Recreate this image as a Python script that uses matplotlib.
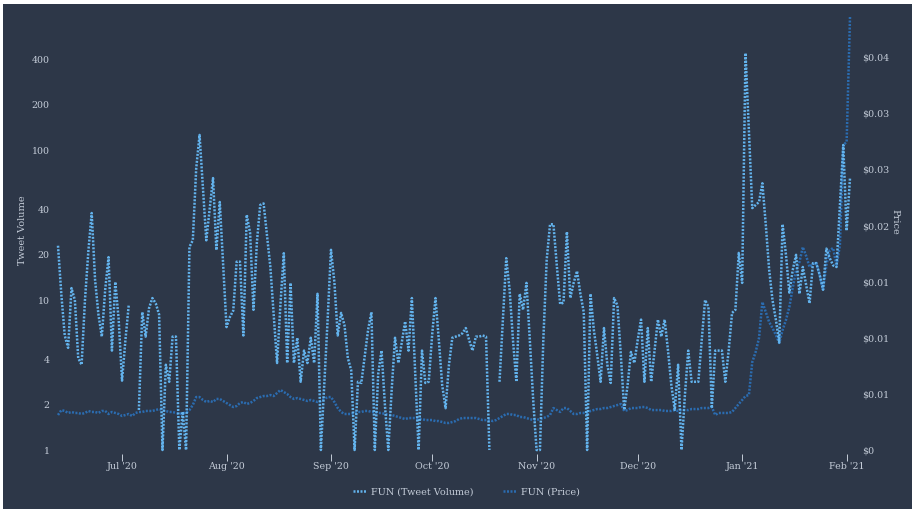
import numpy as np
import pandas as pd
import matplotlib
matplotlib.use('Agg')
import matplotlib.pyplot as plt
from matplotlib.patches import Rectangle

nan = float('nan')

# daily values
tweet_volume = [
    23, 10.8, 5.8, 4.8, 12, 10, 4.1, 3.7, 10, 21,
    38, 13.6, 8, 5.7, 11.7, 19.3, 4.6, 13.2, 7.4, 2.9,
    5.4, 9.3, nan, nan, 1.85, 8.3, 5.7, 8.8, 10.3, 9.5,
    8, 1, 3.7, 2.85, 5.7, 5.7, 1, 1.8, 1, 22.6,
    25, 75, 126, 56, 25, 40, 65, 21.5, 45, 17,
    6.6, 7.7, 8.5, 18, 18, 5.8, 37, 28, 8.6, 24,
    43, 44, 27, 16.7, 8, 3.8, 9.3, 20.5, 3.8, 13,
    3.8, 5.6, 2.85, 4.6, 3.8, 5.6, 3.8, 11, 1, 2.7,
    7.4, 21.6, 13.2, 5.8, 8.2, 6.8, 4.1, 3.4, 1, 2.85,
    2.8, 4.2, 6.3, 8.3, 1, 3.2, 4.6, 2, 1, 2.5,
    5.6, 3.8, 5.2, 7.2, 4.6, 10.3, 3.2, 1, 4.6, 2.8,
    2.85, 5.8, 10.3, 5.4, 2.7, 1.9, 3.7, 5.6, 5.7, 5.8,
    6, 6.5, 5.4, 4.6, 5.7, 5.7, 5.8, 5.7, 1, nan,
    nan, 2.85, 7.4, 19, 11.7, 5.4, 2.85, 11, 8.6, 13,
    5.4, 2.15, 1, 1, 5.4, 18.5, 32, 32, 17, 9.4,
    9.6, 28.5, 10.3, 13, 15.6, 11, 8.3, 1, 11, 6.3,
    4.3, 2.85, 6.5, 3.7, 2.8, 10.3, 9.2, 4.3, 1.85, 2.7,
    4.5, 3.8, 5.4, 7.4, 2.85, 6.5, 2.85, 4.6, 7.4, 5.7,
    7.4, 4.6, 2.7, 1.85, 3.7, 1, 2.3, 4.6, 2.85, 2.85,
    2.85, 5.4, 10, 9, 1.9, 4.6, 4.6, 4.6, 2.85, 4.6,
    8.2, 8.6, 20.6, 13, 443, 136, 41, 43, 45, 60,
    32, 16, 10, 7.4, 5.2, 32, 20, 11.2, 15.8, 20,
    11, 16.6, 12.6, 9.5, 17.6, 17.6, 14.7, 11.7, 22, 19,
    17, 16.6, 43, 108, 29, 65,
]

price = [
    .00312, .00356, .00348, .00330, .00339, .00330, .00330, .00321, .00330, .00348,
    .00339, .00339, .00330, .00348, .00348, .00321, .00339, .00330, .00321, .00303,
    .00312, .00321, .00303, .00330, .00339, .00339, .00348, .00348, .00348, .00356,
    .00365, .00356, .00348, .00339, .00339, .00330, .00321, .00330, .00330, .00356,
    .00401, .00472, .00472, .00446, .00428, .00437, .00428, .00455, .00455, .00437,
    .00419, .00401, .00383, .00392, .00419, .00428, .00410, .00419, .00437, .00463,
    .00472, .00481, .00481, .00490, .00481, .00508, .00535, .00517, .00499, .00472,
    .00455, .00463, .00455, .00446, .00437, .00446, .00437, .00428, .00437, .00455,
    .00472, .00472, .00428, .00374, .00339, .00321, .00321, .00321, .00330, .00339,
    .00339, .00348, .00348, .00339, .00339, .00330, .00330, .00321, .00312, .00312,
    .00303, .00294, .00285, .00276, .00285, .00285, .00285, .00276, .00276, .00267,
    .00267, .00267, .00258, .00258, .00250, .00241, .00241, .00250, .00258, .00276,
    .00285, .00285, .00285, .00285, .00285, .00276, .00267, .00267, .00267, .00258,
    .00267, .00285, .00303, .00321, .00321, .00312, .00312, .00294, .00294, .00285,
    .00276, .00267, .00267, .00276, .00285, .00294, .00312, .00374, .00356, .00339,
    .00374, .00374, .00348, .00321, .00321, .00330, .00330, .00330, .00348, .00356,
    .00365, .00365, .00374, .00374, .00383, .00392, .00401, .00410, .00348, .00356,
    .00374, .00374, .00374, .00383, .00383, .00374, .00356, .00356, .00356, .00356,
    .00348, .00348, .00348, .00356, .00348, .00356, .00356, .00356, .00365, .00365,
    .00365, .00374, .00374, .00374, .00383, .00312, .00330, .00330, .00330, .00330,
    .00339, .00374, .00410, .00446, .00481, .00490, .00784, .00873, .00998, .01319,
    .01230, .01141, .01087, .01025, .00954, .01069, .01159, .01274, .01444, .01604,
    .01676, .01809, .01729, .01631, .01658, .01667, .01560, .01426, .01649, .01782,
    .01800, .01640, .01827, .02718, .02745, .03859,
]

tick_dates = ['2020-07-01', '2020-08-01', '2020-09-01', '2020-10-01',
              '2020-11-01', '2020-12-01', '2021-01-01', '2021-02-01']
tick_labels = ["Jul '20", "Aug '20", "Sep '20", "Oct '20",
               "Nov '20", "Dec '20", "Jan '21", "Feb '21"]
volume_ticks = [1, 2, 4, 10, 20, 40, 100, 200, 400]
price_ticks = [0, 0.005, 0.01, 0.015, 0.02, 0.025, 0.03, 0.035]
price_labels = ['$0', '$0.01', '$0.01', '$0.01', '$0.02', '$0.03', '$0.03', '$0.04']

dates = pd.date_range('2020-06-12', periods=len(tweet_volume), freq='D')

bg = '#2d3748'
col_volume = '#63b3ed'
col_price = '#2b6cb0'
col_text = '#c4ccd8'
dots = (0, (0.8, 0.6))

plt.rcParams['font.family'] = 'DejaVu Serif'
W, H = 916, 514
fig = plt.figure(figsize=(W / 100, H / 100), dpi=100, facecolor='white')
# dark panel behind the axes
fig.patches.append(Rectangle((3 / W, 1 - 509 / H), 909 / W, 505 / H, transform=fig.transFigure,
                             facecolor=bg, edgecolor='none', figure=fig, zorder=-1))

ax1 = fig.add_axes([58 / W, 1 - 454 / H, 792 / W, 437 / H])
ax1.patch.set_visible(False)
ax2 = ax1.twinx()
ax2.patch.set_visible(False)
ax1.set_zorder(ax2.get_zorder() + 1)

line1, = ax1.plot(dates, tweet_volume, color=col_volume, lw=1.8, linestyle=dots,
                  dash_capstyle='butt', label='FUN (Tweet Volume)', clip_on=False)
line2, = ax2.plot(dates, price, color=col_price, lw=1.8, linestyle=dots,
                  dash_capstyle='butt', label='FUN (Price)', clip_on=False)

ax1.set_yscale('log')
ax1.set_ylim(10 ** (-4 / 150), 10 ** (433 / 150))
ax2.set_ylim(-4 / 56.1 * 0.005, 433 / 56.1 * 0.005)
ax1.set_xlim(dates[0], dates[-1])

ax1.set_xticks(pd.to_datetime(tick_dates))
ax1.set_xticklabels(tick_labels)
ax1.set_yticks(volume_ticks)
ax1.set_yticklabels([str(v) for v in volume_ticks])
ax1.minorticks_off()
ax2.set_yticks(price_ticks)
ax2.set_yticklabels(price_labels)

ax1.tick_params(axis='x', colors=col_text, labelsize=6.8, length=5, width=0.7, pad=0.5)
ax1.tick_params(axis='y', colors=col_text, labelsize=6.8, length=0, pad=6)
ax2.tick_params(axis='y', colors=col_text, labelsize=6.8, length=0, pad=8.5)

ax1.set_ylabel('Tweet Volume', color=col_text, fontsize=7)
ax1.yaxis.set_label_coords(-0.039, 0.513)
ax2.set_ylabel('Price', color=col_text, fontsize=7, rotation=270, va='center')
ax2.yaxis.set_label_coords(1.0565, 0.531)

for a in (ax1, ax2):
    for s in a.spines.values():
        s.set_visible(False)

fig.legend([line1, line2], ['FUN (Tweet Volume)', 'FUN (Price)'], ncol=2, frameon=False,
           loc='center', bbox_to_anchor=(466.5 / W, 1 - 492 / H), fontsize=6.9, labelcolor=col_text,
           handlelength=1.45, handletextpad=0.45, columnspacing=3.1)

fig.savefig('out.png', dpi=100, facecolor='white')
